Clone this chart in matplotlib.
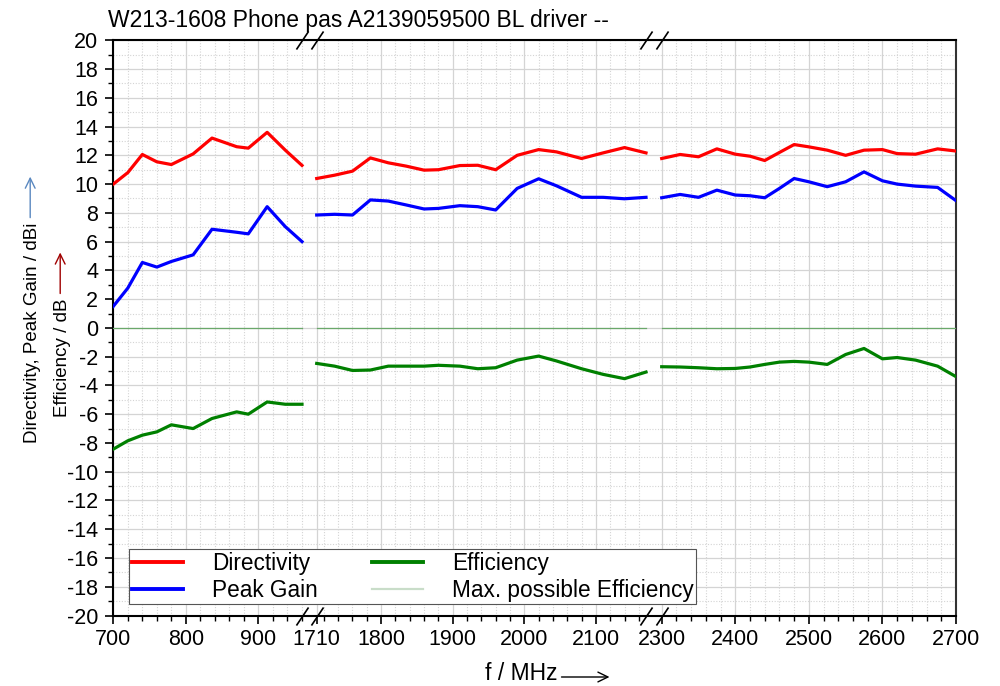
import numpy as np
import matplotlib
matplotlib.use('Agg')
import matplotlib.pyplot as plt
from matplotlib.path import Path
from matplotlib.patches import FancyArrowPatch
from matplotlib.ticker import FixedLocator, FixedFormatter

plt.rcParams['font.family'] = ['Liberation Sans', 'DejaVu Sans']
plt.rcParams['axes.unicode_minus'] = False

title = "W213-1608 Phone pas A2139059500 BL driver --"

# ---- data (MHz, dBi / dB) ----
f_lo = [700, 720, 740, 760, 780, 810, 836, 870, 886, 912, 937, 960]
dir_lo = [10.0, 10.8, 12.06, 11.55, 11.36, 12.1, 13.2, 12.6, 12.5, 13.6, 12.36, 11.3]
gain_lo = [1.5, 2.77, 4.55, 4.23, 4.62, 5.08, 6.86, 6.65, 6.54, 8.43, 7.04, 6.0]
eff_lo = [-8.43, -7.85, -7.46, -7.23, -6.74, -7.0, -6.3, -5.84, -6.0, -5.15, -5.31, -5.31]

f_mid = [1710, 1735, 1760, 1785, 1810, 1835, 1860, 1880, 1910, 1935, 1960,
         1990, 2020, 2045, 2080, 2110, 2140, 2170]
dir_mid = [10.39, 10.62, 10.9, 11.82, 11.48, 11.25, 10.97, 11.0, 11.29, 11.31, 11.0,
           12.0, 12.4, 12.24, 11.78, 12.17, 12.54, 12.17]
gain_mid = [7.85, 7.9, 7.85, 8.9, 8.82, 8.55, 8.27, 8.31, 8.5, 8.43, 8.2,
            9.7, 10.37, 9.88, 9.08, 9.08, 8.98, 9.08]
eff_mid = [-2.47, -2.66, -2.96, -2.93, -2.66, -2.66, -2.66, -2.6, -2.66, -2.84, -2.77,
           -2.24, -1.96, -2.3, -2.84, -3.23, -3.53, -3.07]

f_hi = [2300, 2325, 2350, 2375, 2400, 2420, 2440, 2460, 2480, 2500, 2525, 2550,
        2575, 2600, 2620, 2645, 2675, 2700]
dir_hi = [11.78, 12.06, 11.9, 12.45, 12.08, 11.94, 11.64, 12.2, 12.75, 12.59, 12.36, 12.0,
          12.36, 12.4, 12.12, 12.08, 12.45, 12.3]
gain_hi = [9.05, 9.28, 9.08, 9.58, 9.24, 9.19, 9.05, 9.7, 10.39, 10.16, 9.82, 10.16,
           10.85, 10.23, 10.0, 9.86, 9.77, 8.85]
eff_hi = [-2.7, -2.72, -2.77, -2.84, -2.82, -2.72, -2.54, -2.38, -2.33, -2.38, -2.54, -1.85,
          -1.43, -2.15, -2.06, -2.24, -2.66, -3.39]

max_eff = 0.0

x_major = [700, 800, 900, 1710, 1800, 1900, 2000, 2100, 2300, 2400, 2500, 2600, 2700]
x_labels = [str(v) for v in x_major]
y_major = list(range(-20, 21, 2))

# ---- broken-axis scale ----
BREAK_F = [700, 960, 1710, 2170, 2300, 2700]
BREAK_U = [0.0, 188.7, 203.4, 532.7, 548.4, 842.7]


def fwd(f):
    f = np.asarray(f, dtype=float)
    u = np.interp(f, BREAK_F, BREAK_U)
    u = np.where(f < BREAK_F[0], (f - BREAK_F[0]) * 0.7258, u)
    u = np.where(f > BREAK_F[-1], BREAK_U[-1] + (f - BREAK_F[-1]) * 0.7358, u)
    return u


def inv(u):
    u = np.asarray(u, dtype=float)
    f = np.interp(u, BREAK_U, BREAK_F)
    f = np.where(u < BREAK_U[0], BREAK_F[0] + u / 0.7258, f)
    f = np.where(u > BREAK_U[-1], BREAK_F[-1] + (u - BREAK_U[-1]) / 0.7358, f)
    return f


def join(*segs):
    out = []
    for i, s in enumerate(segs):
        if i:
            out.append(np.nan)
        out.extend(s)
    return np.array(out, dtype=float)


freq = join(f_lo, f_mid, f_hi)
directivity = join(dir_lo, dir_mid, dir_hi)
peak_gain = join(gain_lo, gain_mid, gain_hi)
efficiency = join(eff_lo, eff_mid, eff_hi)
max_possible = join([max_eff] * len(f_lo), [max_eff] * len(f_mid), [max_eff] * len(f_hi))

W, H = 1000, 686
fig = plt.figure(figsize=(W / 100, H / 100), dpi=100)
ax = fig.add_axes([113.3 / W, 1 - 615.5 / H, 842.7 / W, (615.5 - 40.3) / H])
ax.set_xscale('function', functions=(fwd, inv))
ax.set_xlim(700, 2700)
ax.set_ylim(-20, 20)

l_max, = ax.plot(freq, max_possible, color='#6aa86a', lw=0.9, label='Max. possible Efficiency', zorder=3)
l_dir, = ax.plot(freq, directivity, color='#ff0000', lw=2.3, label='Directivity', zorder=4)
l_gain, = ax.plot(freq, peak_gain, color='#0000ff', lw=2.3, label='Peak Gain', zorder=4)
l_eff, = ax.plot(freq, efficiency, color='#008000', lw=2.3, label='Efficiency', zorder=4)

# ticks
minor_x = []
for lo, hi in [(700, 960), (1710, 2170), (2300, 2700)]:
    for v in range(int(np.ceil(lo / 20.0) * 20), hi + 1, 20):
        if v not in x_major:
            minor_x.append(v)
ax.xaxis.set_major_locator(FixedLocator(x_major))
ax.xaxis.set_major_formatter(FixedFormatter(x_labels))
ax.xaxis.set_minor_locator(FixedLocator(minor_x))
ax.yaxis.set_major_locator(FixedLocator(y_major))
ax.yaxis.set_minor_locator(FixedLocator(list(range(-19, 20, 2))))

ax.tick_params(axis='both', which='major', direction='out', length=6, width=1.2,
               labelsize=15.5, color='black')
ax.tick_params(axis='both', which='minor', direction='out', length=3.5, width=1.0, color='black')
ax.tick_params(axis='y', which='major', pad=5)
ax.tick_params(axis='x', which='major', pad=4)

ax.grid(True, which='major', color='#d4d4d4', lw=0.9, ls='-', zorder=0)
ax.grid(True, which='minor', color='#d4d4d4', lw=0.8, ls=(0, (1, 1.5)), zorder=0)
ax.set_axisbelow(True)

for s in ax.spines.values():
    s.set_linewidth(1.5)
    s.set_color('black')
ax.spines['right'].set_color('#333333')

# break marks
slash = Path([(-0.67, -1.0), (0.67, 1.0)])
for yy in (0, 1):
    ax.plot([960, 1710, 2170, 2300], [yy] * 4, transform=ax.get_xaxis_transform(),
            ls='none', marker=slash, ms=13, mec='black', mfc='none', mew=1.2,
            clip_on=False, zorder=6)

# legend
leg = ax.legend(handles=[l_dir, l_gain, l_eff, l_max],
                labels=['Directivity', 'Peak Gain', 'Efficiency', 'Max. possible Efficiency'],
                loc='lower left', bbox_to_anchor=(0.019, 0.020), borderaxespad=0,
                ncol=2, fontsize=16.3, frameon=True, fancybox=False,
                edgecolor='#555555', framealpha=1.0, handlelength=2.25,
                handletextpad=1.3, columnspacing=2.4, borderpad=0.1, labelspacing=0.18)
leg.get_frame().set_linewidth(0.8)
leg.set_zorder(10)
for h in leg.legend_handles[:3]:
    h.set_linewidth(2.8)
leg.legend_handles[3].set_linewidth(1.6)
leg.legend_handles[3].set_color('#c9ddc9')

# title
fig.text(108 / W, 1 - 27 / H, title, ha='left', va='baseline', fontsize=16.5)

# axis labels with arrows
t1 = fig.text(36.7 / W, 1 - 443 / H, "Directivity, Peak Gain / dBi", rotation=90,
              rotation_mode='anchor', ha='left', va='baseline', fontsize=13.5)
t2 = fig.text(66.7 / W, 1 - 417 / H, "Efficiency / dB", rotation=90,
              rotation_mode='anchor', ha='left', va='baseline', fontsize=13.5)
tx = fig.text(485 / W, 1 - 680 / H, "f / MHz", ha='left', va='baseline', fontsize=16.5)

fig.canvas.draw()
r = fig.canvas.get_renderer()


def add_arrow(p0, p1, color):
    a = FancyArrowPatch((p0[0] / W, p0[1] / H), (p1[0] / W, p1[1] / H),
                        transform=fig.transFigure, arrowstyle='->,head_length=0.45,head_width=0.22',
                        mutation_scale=16, lw=1.0, color=color, shrinkA=0, shrinkB=0)
    fig.add_artist(a)


b1 = t1.get_window_extent(r)
add_arrow(((b1.x0 + b1.x1) / 2 - 2, b1.y1 + 5), ((b1.x0 + b1.x1) / 2 - 2, b1.y1 + 46), '#5a88c0')
b2 = t2.get_window_extent(r)
add_arrow(((b2.x0 + b2.x1) / 2 - 2, b2.y1 + 5), ((b2.x0 + b2.x1) / 2 - 2, b2.y1 + 46), '#a00000')
bx = tx.get_window_extent(r)
add_arrow((bx.x1 + 4, bx.y0 + 8), (bx.x1 + 52, bx.y0 + 8), 'black')

fig.savefig('out.png', dpi=100)
